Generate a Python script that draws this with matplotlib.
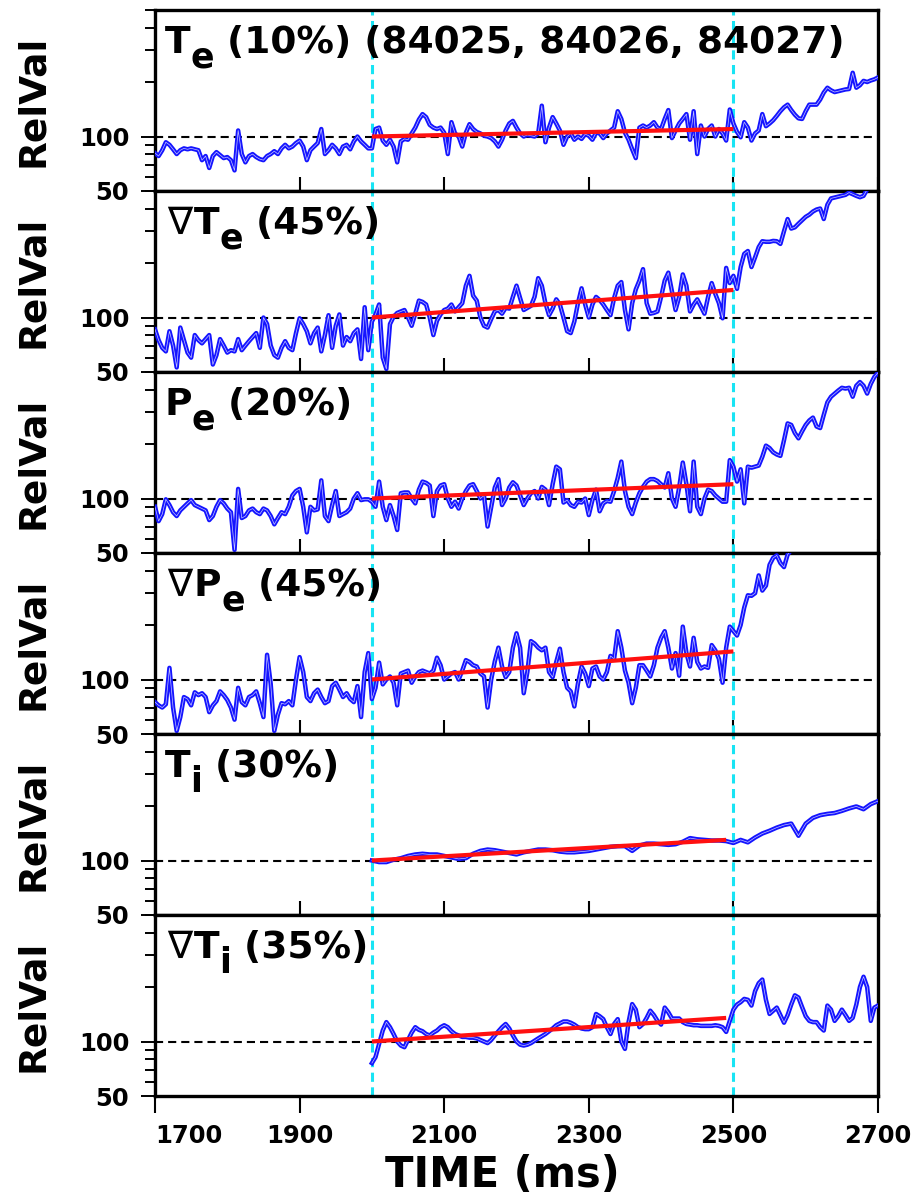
import numpy as np
import matplotlib
matplotlib.use('Agg')
import matplotlib.pyplot as plt
from matplotlib.ticker import NullFormatter

plt.rcParams['font.family'] = 'DejaVu Sans'
plt.rcParams['font.weight'] = 'bold'

# relative values (percent of value at t=2000 ms), 5 ms sampling from 1700 ms
te = [81, 78, 84, 93, 90, 85, 80, 84, 86, 85, 86, 85, 84, 74, 78, 67, 78, 82, 79, 76,
      77, 74, 65, 108, 80, 72, 78, 80, 77, 75, 74, 78, 80, 83, 80, 86, 90, 86, 88, 92,
      95, 88, 74, 84, 88, 92, 110, 80, 84, 90, 86, 80, 88, 90, 85, 94, 100, 94, 90, 86,
      86, 110, 112, 95, 90, 96, 88, 72, 94, 97, 96, 104, 112, 124, 133, 128, 116, 112, 110, 112,
      105, 80, 120, 104, 100, 88, 105, 117, 110, 106, 104, 101, 100, 98, 94, 88, 96, 108, 118, 122,
      112, 104, 100, 102, 101, 100, 104, 148, 93, 112, 128, 118, 108, 90, 100, 104, 96, 100, 97, 103,
      101, 96, 105, 104, 98, 104, 108, 112, 138, 125, 105, 96, 85, 76, 112, 115, 112, 115, 120, 112,
      110, 125, 140, 98, 108, 118, 125, 133, 96, 138, 80, 115, 100, 110, 115, 100, 110, 104, 95, 141,
      118, 106, 99, 120, 112, 95, 104, 108, 133, 114, 118, 123, 130, 138, 145, 150, 140, 132, 126, 125,
      138, 150, 150, 150, 160, 175, 186, 180, 176, 178, 180, 182, 183, 225, 186, 192, 203, 200, 204, 207,
      212]

grad_te = [86, 75, 68, 65, 84, 70, 53, 88, 75, 64, 60, 80, 75, 72, 76, 80, 55, 62, 76, 70,
           64, 66, 65, 76, 66, 70, 74, 78, 82, 68, 100, 92, 70, 62, 60, 68, 74, 68, 66, 82,
           99, 92, 84, 72, 82, 88, 65, 80, 103, 68, 90, 104, 70, 78, 74, 82, 86, 59, 114, 66,
           95, 104, 118, 60, 52, 92, 101, 106, 108, 110, 100, 90, 105, 124, 122, 118, 100, 80, 96, 104,
           110, 112, 118, 108, 114, 120, 150, 170, 132, 124, 100, 90, 88, 98, 108, 110, 105, 113, 112, 130,
           150, 128, 110, 113, 116, 130, 165, 150, 120, 103, 112, 126, 118, 100, 84, 82, 95, 120, 145, 118,
           100, 118, 130, 125, 118, 110, 103, 128, 150, 157, 110, 86, 120, 143, 160, 185, 120, 105, 106, 108,
           130, 160, 177, 140, 110, 130, 173, 150, 108, 118, 126, 115, 105, 130, 155, 135, 120, 99, 188, 155,
           170, 144, 190, 225, 233, 190, 215, 245, 264, 262, 262, 265, 264, 255, 300, 350, 310, 315, 330, 345,
           360, 370, 385, 395, 400, 350, 420, 455, 460, 465, 470, 476, 490, 480, 470, 462, 470, 510, 540, 560,
           580]

pe = [90, 75, 82, 99, 92, 84, 80, 86, 90, 94, 98, 92, 90, 88, 86, 76, 80, 90, 98, 94,
      88, 84, 52, 113, 78, 80, 86, 88, 84, 82, 88, 86, 80, 72, 78, 84, 82, 90, 104, 110,
      113, 90, 65, 90, 86, 87, 126, 80, 75, 92, 110, 80, 82, 84, 88, 100, 107, 98, 99, 99,
      96, 90, 124, 90, 76, 92, 80, 67, 107, 108, 108, 100, 94, 112, 124, 122, 118, 80, 110, 118,
      120, 100, 90, 96, 88, 100, 110, 118, 120, 110, 100, 104, 70, 90, 115, 128, 92, 100, 115, 123,
      118, 104, 92, 100, 107, 110, 100, 116, 112, 92, 120, 150, 145, 95, 98, 92, 90, 96, 95, 100,
      81, 98, 112, 85, 94, 97, 96, 110, 130, 160, 110, 90, 82, 95, 107, 116, 124, 128, 128, 125,
      120, 115, 138, 100, 90, 115, 158, 120, 85, 160, 90, 82, 100, 112, 110, 104, 100, 96, 96, 163,
      150, 124, 145, 94, 150, 148, 150, 152, 170, 196, 190, 180, 175, 172, 210, 260, 255, 230, 215, 235,
      255, 270, 280, 250, 245, 290, 340, 365, 380, 395, 409, 405, 409, 365, 420, 440, 420, 380, 430, 470,
      495]

grad_pe = [75, 72, 70, 73, 116, 70, 52, 62, 80, 78, 72, 85, 82, 84, 80, 66, 72, 76, 86, 82,
           77, 70, 60, 90, 75, 72, 80, 82, 86, 74, 62, 137, 95, 52, 64, 74, 73, 76, 72, 100,
           133, 110, 80, 76, 84, 88, 80, 74, 76, 92, 96, 88, 80, 84, 78, 75, 92, 62, 110, 140,
           78, 90, 124, 94, 100, 104, 96, 72, 108, 110, 112, 96, 104, 110, 112, 110, 108, 112, 132, 120,
           100, 104, 108, 110, 100, 112, 128, 125, 120, 118, 108, 104, 70, 100, 126, 150, 118, 103, 110, 150,
           180, 150, 84, 110, 163, 158, 150, 145, 150, 110, 103, 125, 148, 110, 90, 86, 71, 95, 118, 108,
           92, 115, 118, 104, 100, 110, 135, 130, 185, 150, 112, 96, 74, 90, 120, 120, 112, 104, 120, 150,
           170, 185, 150, 115, 140, 105, 196, 140, 118, 170, 125, 115, 118, 116, 155, 145, 130, 96, 150, 196,
           185, 175, 200, 250, 292, 290, 300, 376, 310, 330, 430, 470, 485, 440, 418, 490, 520]

# ion channels start at 2000 ms
ti = [100, 98, 98, 101, 103, 106, 108, 109, 108, 108, 106, 104, 102, 103, 109, 113, 115, 114, 112, 110,
      108, 111, 113, 115, 115, 114, 112, 111, 111, 112, 113, 115, 117, 119, 120, 120, 113, 121, 124, 124,
      123, 122, 123, 127, 133, 131, 130, 129, 129, 128, 125, 130, 126, 134, 141, 146, 152, 157, 160, 137,
      160, 172, 178, 181, 183, 188, 194, 199, 192, 205, 213]

grad_ti = [76, 82, 97, 115, 128, 120, 110, 100, 95, 93, 102, 112, 120, 116, 114, 110, 108, 112, 115, 120,
           123, 120, 114, 110, 108, 106, 106, 105, 105, 104, 102, 100, 98, 102, 108, 114, 120, 125, 118, 108,
           100, 96, 95, 96, 98, 101, 104, 107, 110, 114, 118, 123, 126, 129, 129, 127, 124, 120, 118, 117,
           117, 120, 142, 138, 133, 120, 110, 125, 133, 100, 91, 128, 161, 150, 120, 125, 135, 148, 140, 130,
           124, 154, 145, 134, 134, 134, 128, 125, 124, 123, 123, 122, 122, 122, 122, 123, 122, 120, 113, 130,
           150, 160, 165, 172, 170, 158, 190, 210, 220, 170, 142, 148, 154, 140, 127, 140, 160, 180, 175, 155,
           138, 130, 128, 128, 120, 115, 158, 150, 130, 138, 150, 140, 130, 135, 160, 200, 228, 200, 130, 154,
           158]

series = [te, grad_te, pe, grad_pe, ti, grad_ti]
t_start = [1700, 1700, 1700, 1700, 2000, 2000]
t_step = [5, 5, 5, 5, 10, 5]

# panel labels: gradient flag, quantity, subscript, rest
is_grad = [False, True, False, True, False, True]
quantity = ['T', 'T', 'P', 'P', 'T', 'T']
species = ['e', 'e', 'e', 'e', 'i', 'i']
suffix = [' (10%) (84025, 84026, 84027)', ' (45%)', ' (20%)', ' (45%)', ' (30%)', ' (35%)']

# linear fits over the 2000-2500 ms window
fit_t0 = [2000, 2000, 2000, 2000, 2000, 2000]
fit_t1 = [2500, 2500, 2500, 2500, 2490, 2490]
fit_v0 = [100, 100, 100, 100, 100, 100]
fit_v1 = [110, 142, 120, 143, 130, 135]

window = [2000, 2500]
base = 100
base_end = 2692
xticks = [1700, 1900, 2100, 2300, 2500, 2700]

W, H = 917, 1204
fig, axes = plt.subplots(6, 1, sharex=True, figsize=(W / 100, H / 100), dpi=100)
fig.subplots_adjust(left=155 / W, right=878 / W, top=1 - 10 / H, bottom=1 - 1096 / H, hspace=0)

FS = 27


def panel_label(ax, i):
    y = 1 - 43 / 181
    if is_grad[i]:
        prev = ax.text(0.017, y, '\u2207', transform=ax.transAxes, fontsize=FS,
                       fontweight='normal', va='baseline', ha='left', zorder=5)
        main = ax.annotate(quantity[i], xy=(1, 0), xycoords=prev, xytext=(1, 0),
                           textcoords='offset points', fontsize=FS, fontweight='bold',
                           va='bottom', ha='left', zorder=5)
    else:
        main = ax.text(0.013, y, quantity[i], transform=ax.transAxes, fontsize=FS,
                       fontweight='bold', va='baseline', ha='left', zorder=5)
    sub = ax.annotate(species[i], xy=(1, 0), xycoords=main, xytext=(0, -10),
                      textcoords='offset points', fontsize=25, fontweight='bold',
                      va='bottom', ha='left', zorder=5)
    ax.annotate(suffix[i], xy=(1, 0), xycoords=(sub, main), xytext=(0, 0),
                textcoords='offset points', fontsize=FS, fontweight='bold',
                va='bottom', ha='left', zorder=5)


for i, ax in enumerate(axes):
    vals = np.array(series[i], dtype=float)
    t = t_start[i] + t_step[i] * np.arange(len(vals))

    ax.set_yscale('log')
    ax.set_xlim(1700, 2700)
    ax.set_ylim(50, 500)

    ax.hlines(base, 1700, base_end, colors='black', linewidth=1.5,
              linestyles=(0, (3.9, 2.4)), zorder=1)
    for tv in window:
        ax.axvline(tv, color='#18e4f4', linewidth=2.2, linestyle=(0, (3.0, 1.8)), zorder=2)

    ax.plot(t, vals, color='#1414ff', linewidth=3.2, zorder=3)
    ax.plot(t, vals, color='#c4c4ff', linewidth=0.5, zorder=3)
    ax.plot([fit_t0[i], fit_t1[i]], [fit_v0[i], fit_v1[i]], color='#ff1010',
            linewidth=3.0, zorder=4, solid_capstyle='butt')

    panel_label(ax, i)

    for s in ax.spines.values():
        s.set_linewidth(2.4)

    ax.set_yticks([50, 100])
    ax.set_yticklabels(['50', '100'])
    ax.set_yticks([60, 70, 80, 90, 200, 300, 400, 500], minor=True)
    ax.yaxis.set_minor_formatter(NullFormatter())
    ax.tick_params(axis='y', which='major', direction='out', length=10, width=1.4,
                   pad=8.5, labelsize=17.5, right=False)
    ax.tick_params(axis='y', which='minor', direction='out', length=7, width=1.4, right=False)

    ax.set_xticks(xticks)
    ax.xaxis.set_minor_locator(plt.NullLocator())
    if i < len(axes) - 1:
        ax.tick_params(axis='x', which='both', direction='in', length=10, width=1.5,
                       top=False, labelbottom=False)
    else:
        ax.tick_params(axis='x', which='both', direction='out', length=12, width=1.5,
                       top=False, pad=8, labelsize=17.5)

    pos = ax.get_position()
    fig.text(33 / W, (pos.y0 + pos.y1) / 2, 'RelVal', rotation=90, ha='center', va='center',
             fontsize=27, fontweight='bold')

last = axes[-1]
for lab in last.get_xticklabels():
    lab.set_fontweight('bold')
last.get_xticklabels()[0].set_horizontalalignment('left')

fig.text(502 / W, 1 - 1187 / H, 'TIME (ms)', ha='center', va='baseline',
         fontsize=30, fontweight='bold')

fig.savefig('out.png', dpi=100)
